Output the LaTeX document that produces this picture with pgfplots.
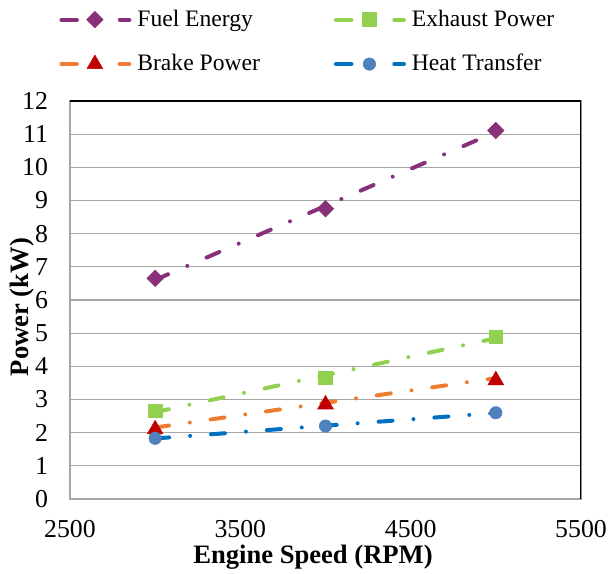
\documentclass[border=0pt]{standalone}
\usepackage{fontspec}
\setmainfont{Liberation Serif}
\usepackage{pgfplots}
\pgfplotsset{compat=1.18}

\definecolor{fuelC}{RGB}{136,48,122}
\definecolor{exhC}{RGB}{146,208,80}
\definecolor{brakeL}{RGB}{237,125,49}
\definecolor{brakeM}{RGB}{192,0,0}
\definecolor{heatL}{RGB}{0,112,192}
\definecolor{heatM}{RGB}{79,129,189}
\definecolor{gridC}{RGB}{166,166,166}

\tikzset{trend/.style={line width=2pt, line cap=round,
    dash pattern=on 7pt off 10.5pt on 0pt off 10.5pt}}

% legend: short dash, marker, short dash
\pgfplotsset{trendleg/.style={legend image code/.code={
    \draw[#1, line width=2pt, line cap=round] (1pt,0pt) -- (8.75pt,0pt);
    \draw[#1, line width=2pt, line cap=round] (30.2pt,0pt) -- (35pt,0pt);
    \draw[##1] plot coordinates {(17.75pt,0pt)};
}}}

\begin{document}
\begin{tikzpicture}
\useasboundingbox (-35pt,-37pt) rectangle (269pt,249.5pt);
\begin{axis}[
    scale only axis,
    width=255.5pt, height=199pt,
    xmin=2500, xmax=5500,
    ymin=0, ymax=12,
    xtick={2500,3500,4500,5500},
    ytick={0,1,...,12},
    major tick length=0pt,
    ymajorgrids=true,
    grid style={gridC, line width=0.6pt},
    axis line style={gridC, line width=0.6pt},
    /pgf/number format/assume math mode=true,
    /pgf/number format/1000 sep={},
    tick label style={font=\fontsize{12.9}{14}\selectfont},
    xticklabel style={yshift=-7pt},
    yticklabel style={xshift=-7.5pt},
    xlabel={Engine Speed (RPM)},
    ylabel={Power (kW)},
    label style={font=\fontsize{13.3}{15}\selectfont\bfseries},
    xlabel style={at={(axis description cs:0.4755,-0.1457)}, anchor=center},
    ylabel style={at={(axis description cs:-0.094,0.482)}, anchor=center},
    legend columns=2,
    legend cell align=left,
    legend style={draw=none, fill=none, at={(rel axis cs:-0.0333,1.245)},
        anchor=north west, row sep=10.5pt,
        font=\fontsize{11.8}{13}\selectfont,
        nodes={inner sep=1pt},
        /tikz/every odd column/.append style={column sep=2pt},
        /tikz/every even column/.append style={column sep=36pt}},
]
\draw[black, line width=0.6pt] (rel axis cs:0,1) -- (rel axis cs:1,1) -- (rel axis cs:1,0);

% linear trendlines
\addplot[fuelC, trend, forget plot] coordinates {(3000,6.607) (5000,11.067)};
\addplot[exhC, trend, forget plot] coordinates {(3000,2.618) (5000,4.848)};
\addplot[brakeL, trend, forget plot] coordinates {(3000,2.155) (5000,3.645)};
\addplot[heatL, trend, forget plot] coordinates {(3000,1.825) (5000,2.595)};

% measured points
\addplot[only marks, mark=square*, mark size=2.9pt, color=fuelC,
    mark options={solid, rotate=45, line width=0.3pt}, trendleg=fuelC]
    coordinates {(3000,6.65) (4000,8.75) (5000,11.11)};
\addlegendentry{Fuel Energy}
\addplot[only marks, mark=square*, mark size=3.4pt, color=exhC,
    mark options={solid, line width=0.3pt}, trendleg=exhC]
    coordinates {(3000,2.66) (4000,3.65) (5000,4.89)};
\addlegendentry{Exhaust Power}
\addplot[only marks, mark=triangle*, mark size=4.5pt, color=brakeM,
    mark options={solid, line width=0.3pt}, trendleg=brakeL]
    coordinates {(3000,2.1) (4000,2.85) (5000,3.58)};
\addlegendentry{Brake Power}
\addplot[only marks, mark=*, mark size=3.1pt, color=heatM,
    mark options={solid, line width=0.3pt}, trendleg=heatL]
    coordinates {(3000,1.83) (4000,2.2) (5000,2.6)};
\addlegendentry{Heat Transfer}
\end{axis}
\end{tikzpicture}
\end{document}
